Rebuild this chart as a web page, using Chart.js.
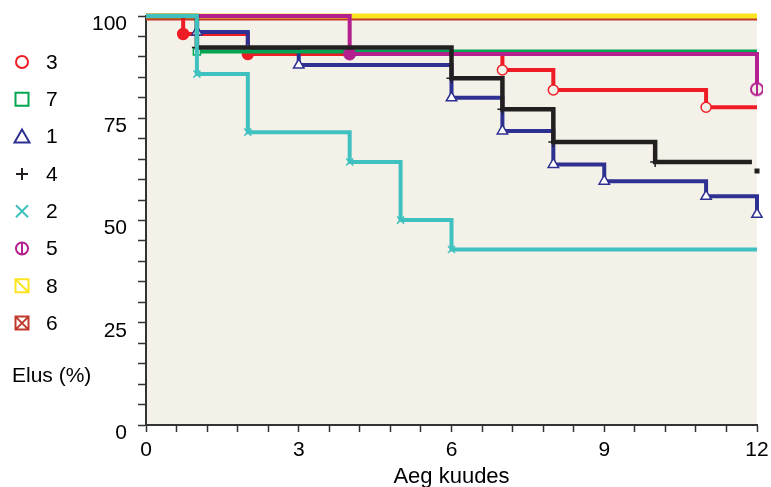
<!DOCTYPE html>
<html>
<head>
<meta charset="utf-8">
<script src="https://cdn.jsdelivr.net/npm/chart.js@4.4.1/dist/chart.umd.min.js"></script>
<style>
    html, body { margin: 0; padding: 0; background: #fff; }
    #wrap { width: 771px; height: 487px; position: relative; }
</style>
</head>
<body>
<div id="wrap"><canvas id="elulemusChart"></canvas></div>
<script>
// Rühmade andmed: aeg kuudes ja elus (%)
const ryhmad = ['3', '7', '1', '4', '2', '5', '8', '6'];

const kuud3 = [0, 0.73, 2, 7, 8, 11, 12];
const elus3 = [100, 95.6, 90.7, 86.8, 81.9, 77.7, 77.7];
const kuud7 = [0, 1, 12];
const elus7 = [100, 91.3, 91.3];
const kuud1 = [0, 1, 2, 3, 6, 7, 8, 9, 11, 12];
const elus1 = [100, 96.1, 91.9, 88.0, 80.0, 71.9, 63.7, 59.6, 55.9, 51.5];
const kuud4 = [0, 1, 6, 7, 8, 10, 11.9, 11.95, 12];
const elus4 = [100, 92.3, 84.8, 77.2, 69.2, 64.3, 64.3, null, 62.1];
const kuud2 = [0, 1, 2, 4, 5, 6, 12];
const elus2 = [100, 85.8, 71.6, 64.3, 50.1, 42.9, 42.9];
const kuud5 = [0, 4, 12];
const elus5 = [100, 90.7, 82.1];
const kuud8 = [0, 12];
const elus8 = [100, 100];
const kuud6 = [0, 12];
const elus6 = [99.2, 99.2];

const xSildid = [0, 3, 6, 9, 12];
const ySildid = [0, 25, 50, 75, 100];

const TAUST = '#f4f1e9';

function punktid(kuud, elus) {
    return kuud.map((k, i) => ({ x: k, y: elus[i] }));
}

// markerite joonistamine (legend + erikujud)
function joonistaMarker(ctx, tyyp, x, y, varv) {
    ctx.save();
    ctx.strokeStyle = varv;
    ctx.lineWidth = 2;
    ctx.beginPath();
    if (tyyp === 'circle') {
        ctx.arc(x, y, 6, 0, Math.PI * 2);
    } else if (tyyp === 'circleBar') {
        ctx.arc(x, y, 6, 0, Math.PI * 2);
        ctx.moveTo(x, y - 6);
        ctx.lineTo(x, y + 6);
    } else if (tyyp === 'square' || tyyp === 'squareSlash' || tyyp === 'squareX') {
        ctx.rect(x - 6.5, y - 6.5, 13, 13);
        if (tyyp !== 'square') {
            ctx.moveTo(x - 6.5, y - 6.5);
            ctx.lineTo(x + 6.5, y + 6.5);
        }
        if (tyyp === 'squareX') {
            ctx.moveTo(x + 6.5, y - 6.5);
            ctx.lineTo(x - 6.5, y + 6.5);
        }
    } else if (tyyp === 'triangle') {
        ctx.moveTo(x, y - 7);
        ctx.lineTo(x + 7.5, y + 6);
        ctx.lineTo(x - 7.5, y + 6);
        ctx.closePath();
    } else if (tyyp === 'plus') {
        ctx.moveTo(x - 6, y); ctx.lineTo(x + 6, y);
        ctx.moveTo(x, y - 6); ctx.lineTo(x, y + 6);
    } else if (tyyp === 'x') {
        ctx.moveTo(x - 6, y - 6); ctx.lineTo(x + 6, y + 6);
        ctx.moveTo(x + 6, y - 6); ctx.lineTo(x - 6, y + 6);
    }
    ctx.stroke();
    ctx.restore();
}

function markerPilt(tyyp, varv) {
    const c = document.createElement('canvas');
    c.width = 16; c.height = 16;
    const cx = c.getContext('2d');
    cx.fillStyle = TAUST;
    cx.beginPath(); cx.arc(8, 8, 5, 0, Math.PI * 2); cx.fill();
    joonistaMarker(cx, tyyp, 8, 8, varv);
    return c;
}

// marker ainult langusel
function langus(ctx) {
    const d = ctx.dataset.data;
    const i = ctx.dataIndex;
    if (i === 0 || d[i].y == null) return false;
    return d[i - 1].y != null && d[i].y < d[i - 1].y;
}

// telgede sisepadding nulli, et joonisala asukoht oleks täpne
function nulliPadding(s) {
    s.paddingTop = 0;
    s.paddingBottom = 0;
    s.paddingLeft = 0;
    s.paddingRight = 0;
}

const stiilid = {
    '3': { color: '#ee1d25', legend: 'circle', order: 5 },
    '7': { color: '#00a651', legend: 'square', order: 3 },
    '1': { color: '#2e3192', legend: 'triangle', order: 4 },
    '4': { color: '#231f20', legend: 'plus', order: 1 },
    '2': { color: '#3fc1bf', legend: 'x', order: 0 },
    '5': { color: '#b5208f', legend: 'circleBar', order: 2 },
    '8': { color: '#fbe520', legend: 'squareSlash', order: 6 },
    '6': { color: '#c1392b', legend: 'squareX', order: 7 }
};

const magentaLopp = markerPilt('circleBar', stiilid['5'].color);

const datasets = [
    {
        label: '3', data: punktid(kuud3, elus3), borderWidth: 4,
        pointStyle: 'circle',
        pointRadius: c => langus(c) ? (c.dataIndex <= 2 ? 5.5 : 5) : 0,
        pointBackgroundColor: c => c.dataIndex <= 2 ? stiilid['3'].color : TAUST,
        pointBorderWidth: 1.5
    },
    {
        label: '7', data: punktid(kuud7, elus7), borderWidth: 4,
        pointStyle: 'rect',
        pointRadius: c => langus(c) ? 5 : 0,
        pointBackgroundColor: TAUST, pointBorderWidth: 1.5
    },
    {
        label: '1', data: punktid(kuud1, elus1), borderWidth: 4,
        pointStyle: 'triangle',
        pointRadius: c => langus(c) ? 6 : 0,
        pointBackgroundColor: '#ffffff', pointBorderWidth: 1.5
    },
    {
        label: '4', data: punktid(kuud4, elus4), borderWidth: 4.5,
        spanGaps: false,
        pointStyle: c => (c.dataIndex === kuud4.length - 1 ? 'rect' : 'cross'),
        pointRadius: c => {
            if (c.dataIndex === kuud4.length - 1) return 2.5;
            return langus(c) ? 5 : 0;
        },
        pointBackgroundColor: stiilid['4'].color, pointBorderWidth: 1.5
    },
    {
        label: '2', data: punktid(kuud2, elus2), borderWidth: 4,
        pointStyle: 'crossRot',
        pointRadius: c => langus(c) ? 5 : 0,
        pointBorderWidth: 1.5
    },
    {
        label: '5', data: punktid(kuud5, elus5), borderWidth: 4,
        pointStyle: c => (c.dataIndex === kuud5.length - 1 ? magentaLopp : 'circle'),
        pointRadius: c => langus(c) ? 6 : 0,
        pointBackgroundColor: stiilid['5'].color, pointBorderWidth: 1
    },
    {
        label: '8', data: punktid(kuud8, elus8), borderWidth: 5, pointRadius: 0
    },
    {
        label: '6', data: punktid(kuud6, elus6), borderWidth: 2.5, pointRadius: 0
    }
].map(ds => Object.assign({
    borderColor: stiilid[ds.label].color,
    pointBorderColor: stiilid[ds.label].color,
    stepped: true,
    tension: 0,
    fill: false,
    order: stiilid[ds.label].order,
    clip: 6
}, ds));

// beež joonisala taust
const taustPlugin = {
    id: 'taust',
    beforeDraw(chart) {
        const { ctx, chartArea: a } = chart;
        ctx.save();
        ctx.fillStyle = TAUST;
        ctx.fillRect(a.left, a.top, a.right - a.left, a.bottom - a.top);
        ctx.restore();
    }
};

// legend vasakul + y-telje pealkiri
const legendPlugin = {
    id: 'vasakLegend',
    afterDraw(chart) {
        const ctx = chart.ctx;
        ctx.save();
        ctx.font = '21px "Liberation Sans", Arial, sans-serif';
        ctx.fillStyle = '#000';
        ctx.textBaseline = 'middle';
        ryhmad.forEach((r, i) => {
            const y = 62 + i * 37.3;
            joonistaMarker(ctx, stiilid[r].legend, 22, y, stiilid[r].color);
            ctx.fillText(r, 46, y + 1);
        });
        ctx.fillText('Elus (%)', 12, 376);
        ctx.restore();
    }
};

Chart.defaults.font.family = '"Liberation Sans", Arial, sans-serif';
Chart.defaults.color = '#000';

const ctx = document.getElementById('elulemusChart').getContext('2d');
new Chart(ctx, {
    type: 'line',
    data: { datasets: datasets },
    plugins: [taustPlugin, legendPlugin],
    options: {
        responsive: true,
        maintainAspectRatio: false,
        animation: false,
        layout: { padding: { left: 86, top: 16, right: 14, bottom: 0 } },
        plugins: {
            legend: { display: false },
            tooltip: { enabled: false }
        },
        scales: {
            x: {
                type: 'linear',
                min: 0,
                max: 12,
                afterFit: s => { s.height = 62; nulliPadding(s); },
                grid: { drawOnChartArea: false, drawTicks: true, tickLength: 7, tickColor: '#333', tickWidth: 1.5 },
                border: { color: '#333', width: 2 },
                ticks: {
                    stepSize: 0.6,
                    maxTicksLimit: 50,
                    autoSkip: false,
                    maxRotation: 0,
                    padding: 6,
                    font: { size: 21 },
                    callback: v => {
                        const m = xSildid.find(s => Math.abs(s - v) < 1e-6);
                        return m === undefined ? '' : String(m);
                    }
                },
                title: { display: true, text: 'Aeg kuudes', font: { size: 22 }, padding: { top: 0, bottom: -3 } }
            },
            y: {
                min: 0,
                max: 100,
                afterFit: s => { s.width = 60; nulliPadding(s); },
                grid: { drawOnChartArea: false, drawTicks: true, tickLength: 8, tickColor: '#333', tickWidth: 1.5 },
                border: { color: '#333', width: 2 },
                ticks: {
                    stepSize: 5,
                    autoSkip: false,
                    padding: 11,
                    labelOffset: 8,
                    font: { size: 21 },
                    callback: v => (ySildid.includes(v) ? String(v) : '')
                }
            }
        }
    }
});
</script>
</body>
</html>
